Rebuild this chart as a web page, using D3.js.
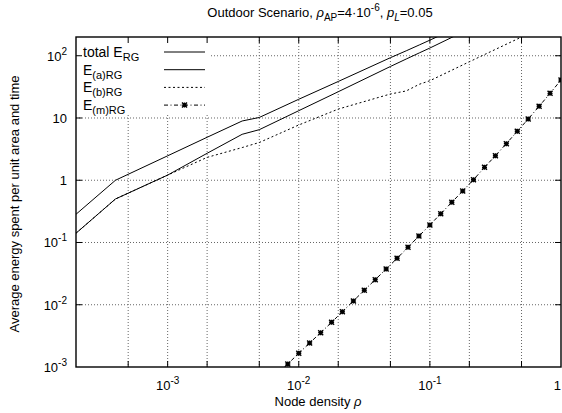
<!DOCTYPE html>
<html>
<head>
<meta charset="utf-8">
<script src="https://cdn.jsdelivr.net/npm/d3@7"></script>
<style>
  body { margin: 0; background: #fff; }
  svg { display: block; font-family: "Liberation Sans", Arial, sans-serif; }
</style>
</head>
<body>
<svg id="chart" width="562" height="413"></svg>
<script>
// node density values for the E curves
const rho = [2e-4, 4e-4, 1e-3, 2e-3, 3.7e-3, 5e-3, 1e-2, 2e-2, 5e-2, 6.6e-2, 8.3e-2, 1e-1, 2e-1, 5e-1, 1];
const totalE = [0.284, 1.0, 2.47, 4.9, 8.95, 10.2, 20.0, 38.6, 93, 120, 149, 178, 350, 850, 1700];
const aE = [0.141, 0.5, 1.21, 2.71, 5.47, 6.49, 13.1, 26.4, 67.2, 88.6, 111, 133, 270, 650, 1300];
const bE = [0.141, 0.5, 1.21, 2.33, 3.35, 4.04, 7.72, 13.9, 24.3, 27.2, 34.8, 39.7, 80, 200, 410];

// E_(m)RG is sampled on its own grid
const rhoM = [0.00681, 0.00825, 0.01, 0.0121, 0.0147, 0.0178, 0.0215, 0.0261, 0.0316, 0.0383,
  0.0464, 0.0562, 0.0681, 0.0825, 0.1, 0.121, 0.147, 0.178, 0.215, 0.261,
  0.316, 0.383, 0.464, 0.562, 0.681, 0.825, 1];
const mE = [7.6e-4, 1.12e-3, 1.66e-3, 2.43e-3, 3.56e-3, 5.22e-3, 7.73e-3, 1.15e-2, 1.71e-2, 2.53e-2,
  3.75e-2, 5.57e-2, 8.37e-2, 0.127, 0.191, 0.29, 0.442, 0.672, 1.02, 1.61,
  2.48, 3.87, 6.11, 9.64, 15.4, 24.9, 40.8];

const xMajor = [1e-3, 1e-2, 1e-1, 1];
const xMajorLabels = [['10', '-3'], ['10', '-2'], ['10', '-1'], ['1', '']];
const xGrid = [5e-4, 1e-3, 2e-3, 5e-3, 1e-2, 2e-2, 5e-2, 1e-1, 2e-1, 5e-1, 1];
const yMajor = [1e-3, 1e-2, 1e-1, 1, 10, 100];
const yMajorLabels = [['10', '-3'], ['10', '-2'], ['10', '-1'], ['1', ''], ['10', ''], ['10', '2']];

const svg = d3.select('#chart');
const margin = {top: 37, right: 1, bottom: 46, left: 76};
const width = 562 - margin.left - margin.right;
const height = 413 - margin.top - margin.bottom;

const xScale = d3.scaleLog().domain([2e-4, 1]).range([0, width]);
const yScale = d3.scaleLog().domain([1e-3, 200]).range([height, 0]);

const g = svg.append('g')
    .attr('transform', `translate(${margin.left}, ${margin.top})`);

g.append('clipPath').attr('id', 'plot-clip')
  .append('rect').attr('width', width).attr('height', height);

// grid
g.append('g').selectAll('line').data(xGrid.filter(d => d < 1))
  .enter().append('line')
    .attr('x1', d => xScale(d)).attr('x2', d => xScale(d))
    .attr('y1', 0).attr('y2', height)
    .attr('stroke', '#666').attr('stroke-dasharray', '1,2');
g.append('g').selectAll('line').data(yMajor.slice(1))
  .enter().append('line')
    .attr('x1', 0).attr('x2', width)
    .attr('y1', d => yScale(d)).attr('y2', d => yScale(d))
    .attr('stroke', '#666').attr('stroke-dasharray', '1,2');

// legend background hides the grid
g.append('rect')
  .attr('x', 0).attr('y', 0).attr('width', 135).attr('height', 76)
  .attr('fill', '#fff');

const series = [
  {name: 'total', sub: 'RG', x: rho, y: totalE, dash: null},
  {name: 'E', sub: '(a)RG', x: rho, y: aE, dash: null},
  {name: 'E', sub: '(b)RG', x: rho, y: bE, dash: '2,2.5'},
  {name: 'E', sub: '(m)RG', x: rhoM, y: mE, dash: '4,2.5,1,2.5', marks: true}
];

const line = d3.line()
  .x(d => xScale(d[0]))
  .y(d => yScale(d[1]));

const plot = g.append('g').attr('clip-path', 'url(#plot-clip)');

function star(sel, size) {
  sel.append('path')
    .attr('d', `M${-size},0H${size}M0,${-size}V${size}M${-size},${-size}L${size},${size}M${-size},${size}L${size},${-size}`)
    .attr('stroke', '#000').attr('stroke-width', 1.4).attr('fill', 'none');
}

series.forEach(s => {
  const pts = s.x.map((v, i) => [v, s.y[i]]);
  plot.append('path')
    .datum(pts)
    .attr('d', line)
    .attr('fill', 'none')
    .attr('stroke', '#000')
    .attr('stroke-width', 1)
    .attr('stroke-dasharray', s.dash);
  if (s.marks) {
    plot.selectAll('.mk').data(pts.filter(p => p[1] >= 1e-3))
      .enter().append('g')
        .attr('class', 'mk')
        .attr('transform', p => `translate(${xScale(p[0])},${yScale(p[1])})`)
        .call(star, 2.5);
  }
});

// border and ticks
g.append('rect')
  .attr('width', width).attr('height', height)
  .attr('fill', 'none').attr('stroke', '#000').attr('stroke-width', 1.4);

const tick = 6;
xGrid.filter(d => d < 1).forEach(d => {
  const x = xScale(d);
  g.append('line').attr('x1', x).attr('x2', x).attr('y1', height).attr('y2', height - tick).attr('stroke', '#000');
  g.append('line').attr('x1', x).attr('x2', x).attr('y1', 0).attr('y2', tick).attr('stroke', '#000');
});
yMajor.slice(1).forEach(d => {
  const y = yScale(d);
  g.append('line').attr('x1', 0).attr('x2', tick).attr('y1', y).attr('y2', y).attr('stroke', '#000');
  g.append('line').attr('x1', width).attr('x2', width - tick).attr('y1', y).attr('y2', y).attr('stroke', '#000');
});

// tick labels
const fs = 13;
xMajor.forEach((d, i) => {
  const t = g.append('text')
    .attr('x', xScale(d)).attr('y', height + 23)
    .attr('text-anchor', i === xMajor.length - 1 ? 'end' : 'middle')
    .attr('font-size', fs);
  t.append('tspan').text(xMajorLabels[i][0]);
  if (xMajorLabels[i][1]) t.append('tspan').attr('dy', -6).attr('font-size', 10).text(xMajorLabels[i][1]);
});
yMajor.forEach((d, i) => {
  const t = g.append('text')
    .attr('x', -9).attr('y', yScale(d) + 5)
    .attr('text-anchor', 'end')
    .attr('font-size', fs);
  t.append('tspan').text(yMajorLabels[i][0]);
  if (yMajorLabels[i][1]) t.append('tspan').attr('dy', -6).attr('font-size', 10).text(yMajorLabels[i][1]);
});

// legend
series.forEach((s, i) => {
  const y = 15 + i * 17.7;
  const t = g.append('text').attr('x', 7).attr('y', y + 5).attr('font-size', 14);
  t.append('tspan').text(s.name === 'total' ? 'total E' : 'E');
  t.append('tspan').attr('dy', 4).attr('font-size', 11).text(s.sub);
  g.append('line')
    .attr('x1', 88).attr('x2', 129).attr('y1', y).attr('y2', y)
    .attr('stroke', '#000').attr('stroke-dasharray', s.dash);
  if (s.marks) g.append('g').attr('transform', `translate(108.5,${y})`).call(star, 2.5);
});

// axis titles
const xt = svg.append('text')
  .attr('x', 318).attr('y', 406).attr('text-anchor', 'middle').attr('font-size', fs);
xt.append('tspan').text('Node density ');
xt.append('tspan').attr('font-style', 'italic').text('\u03c1');

svg.append('text')
  .attr('transform', 'translate(19,204) rotate(-90)')
  .attr('text-anchor', 'middle').attr('font-size', fs)
  .text('Average energy spent per unit area and time');

const title = svg.append('text')
  .attr('x', 320).attr('y', 17).attr('text-anchor', 'middle').attr('font-size', fs);
title.append('tspan').text('Outdoor Scenario, ');
title.append('tspan').attr('font-style', 'italic').text('\u03c1');
title.append('tspan').attr('dy', 4).attr('font-size', 10).text('AP');
title.append('tspan').attr('dy', -4).text('=4\u00b710');
title.append('tspan').attr('dy', -6).attr('font-size', 10).text('-6');
title.append('tspan').attr('dy', 6).text(', ');
title.append('tspan').attr('font-style', 'italic').text('p');
title.append('tspan').attr('dy', 4).attr('font-size', 10).attr('font-style', 'italic').text('L');
title.append('tspan').attr('dy', -4).text('=0.05');
</script>
</body>
</html>
